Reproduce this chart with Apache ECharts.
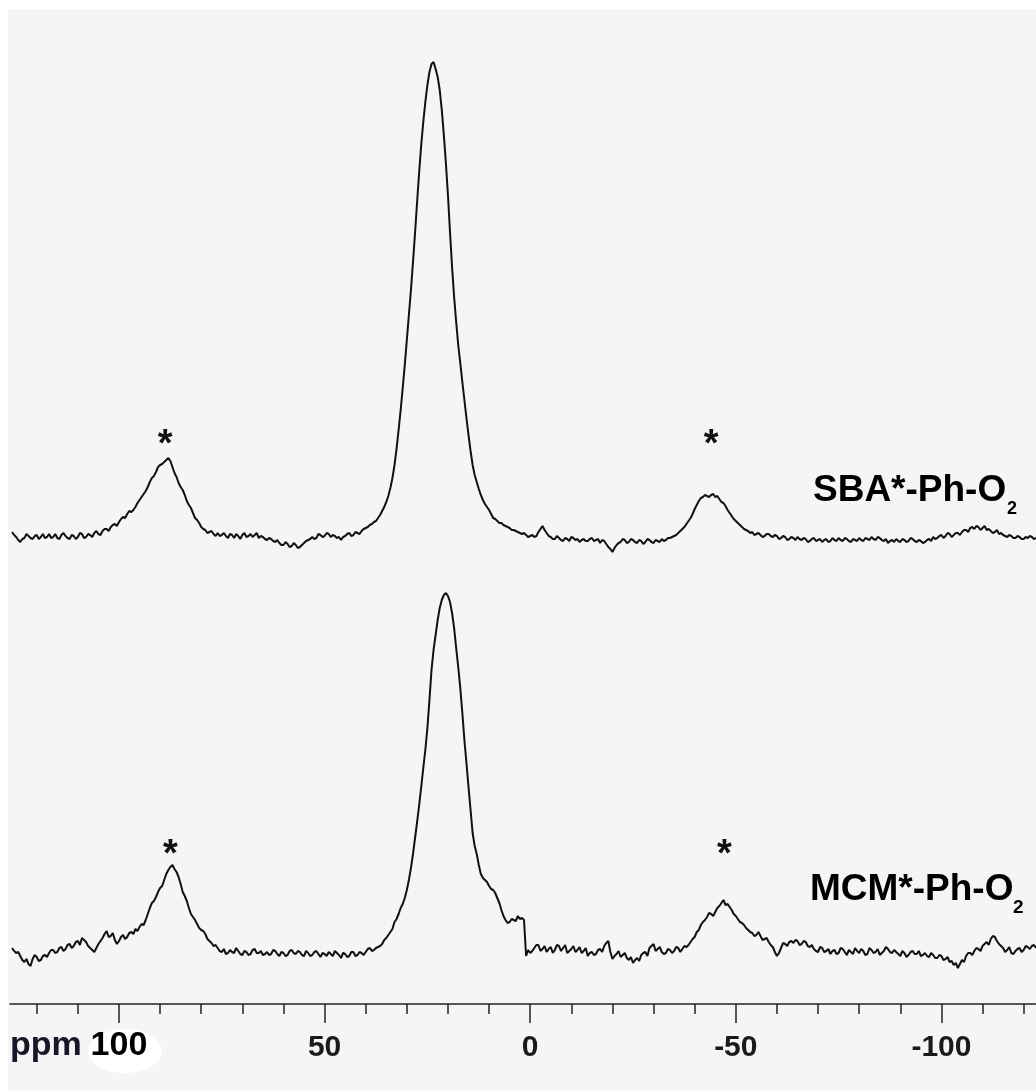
<!DOCTYPE html>
<html><head><meta charset="utf-8">
<script src="https://cdn.jsdelivr.net/npm/echarts@6/dist/echarts.min.js"></script>
<style>
html,body{margin:0;padding:0;background:#fff;}
#bg{position:absolute;left:8px;top:9px;width:1028px;height:1082px;background:#f5f5f5;}
#chart{position:absolute;left:0;top:0;width:1036px;height:1091px;}
</style></head><body>
<div id="bg"></div><div id="chart"></div>
<script>
// chemical shift sampling: whole-ppm points 126 .. -123, plus half-ppm points 125.5 .. -122.5
const ppmStart = 126, ppmStep = 1;

// SBA*-Ph-O2 trace (a.u., baseline ~0) at whole ppm, 126 .. -123
const sbaIntensity = [
  3, -2, -7, -3, -1, -4, 0, -2, -3, 1,
  -2, -3, 0, -1, -4, -1, -2, 1, -2, 0,
  2, 1, 4, 6, 8, 11, 13, 18, 21, 23,
  28, 35, 41, 48, 57, 63, 70, 73, 77, 68,
  58, 48, 40, 30, 22, 15, 8, 5, 3, 1,
  2, 0, -1, 1, -3, -1, 0, -2, 1, 0,
  -3, -2, -5, -4, -7, -8, -10, -9, -11, -10,
  -12, -8, -5, -2, -3, 0, -1, 1, 0, -3,
  -5, -1, 2, 0, 2, 4, 7, 10, 13, 17,
  24, 33, 47, 70, 105, 147, 195, 245, 302, 363,
  413, 450, 471, 466, 445, 400, 340, 268, 213, 172,
  135, 100, 70, 53, 40, 31, 25, 17, 14, 12,
  9, 7, 5, 3, 1, 0, -1, -2, 3, 9,
  2, -2, -4, -3, -6, -4, -2, -5, -7, -4,
  -6, -3, -5, -8, -6, -12, -17, -10, -7, -5,
  -7, -5, -8, -6, -7, -5, -8, -6, -4, -5,
  -3, -1, 2, 6, 11, 17, 26, 34, 38, 39,
  40, 38, 36, 32, 25, 19, 14, 10, 6, 4,
  3, 1, 0, -1, 1, -2, -1, -3, -2, -4,
  -3, -2, -5, -4, -6, -3, -5, -7, -4, -6,
  -5, -3, -6, -4, -7, -5, -3, -6, -4, -2,
  -5, -3, -6, -8, -5, -4, -7, -5, -6, -4,
  -7, -6, -7, -4, -2, -3, 0, -1, 1, 0,
  2, 3, 5, 7, 6, 8, 7, 5, 4, 3,
  1, 0, -2, -1, -3, -2, -4, -3, -2, -3
];
// SBA*-Ph-O2 trace at half ppm, 125.5 .. -122.5
const sbaHalf = [
  0, -5, -4, 1, -3, -1, -4, 1, -2, -3,
  1, -4, 2, -3, 0, -4, 2, -3, 1, -2,
  4, 0, 6, 4, 10, 9, 16, 17, 24, 25,
  32, 38, 44, 53, 59, 68, 71, 75, 74, 62,
  52, 45, 34, 27, 17, 12, 6, 2, 4, -1,
  -1, 2, -3, 0, 1, -4, 2, -1, -2, 2,
  -1, -4, -3, -6, -5, -10, -7, -12, -8, -13,
  -10, -6, -4, -4, 1, -2, 2, -2, -1, -2,
  -2, 1, -1, 3, 1, 6, 8, 11, 14, 20,
  28, 39, 57, 86, 125, 170, 220, 273, 333, 390,
  433, 463, 473, 458, 425, 372, 303, 238, 190, 153,
  117, 84, 60, 46, 35, 28, 21, 16, 12, 10,
  8, 5, 4, 2, 2, -2, 0, -1, 6, 5,
  -1, -4, -1, -5, -3, -6, -3, -4, -5, -6,
  -4, -6, -4, -5, -9, -14, -13, -8, -4, -8,
  -4, -7, -5, -9, -4, -7, -5, -7, -6, -3,
  -2, 0, 4, 8, 14, 21, 30, 37, 40, 38,
  41, 39, 33, 29, 22, 16, 12, 8, 5, 2,
  0, 2, -2, 1, -1, 0, -4, -1, -5, -2,
  -5, -4, -3, -7, -4, -6, -4, -5, -7, -3,
  -6, -5, -3, -6, -4, -6, -5, -3, -5, -4,
  -2, -5, -4, -6, -7, -6, -4, -7, -3, -6,
  -5, -8, -5, -6, -4, -1, -3, 2, -2, 2,
  0, 5, 3, 8, 9, 5, 9, 6, 2, 5,
  2, -1, 0, -3, -1, -4, -2, -1, -4
];

// MCM*-Ph-O2 trace (a.u., baseline ~0) at whole ppm, 126 .. -123
const mcmIntensity = [
  2, -3, -6, -12, -14, -9, -7, -10, -5, -3,
  0, -2, 3, 1, 6, 4, 9, 12, 8, 2,
  -2, 6, 12, 19, 14, 10, 9, 15, 13, 18,
  21, 23, 25, 36, 47, 53, 62, 70, 80, 85,
  78, 66, 54, 42, 33, 26, 20, 16, 9, 4,
  2, -2, -4, 0, -3, -1, -5, -2, -4, 1,
  -3, -5, -2, -4, -1, -6, -3, -5, 0, -4,
  -2, -6, -3, -5, -1, -7, -4, -2, -6, -3,
  -8, -4, -6, -2, -5, -3, -2, 2, 0, 3,
  6, 12, 18, 28, 36, 46, 60, 82, 112, 145,
  182, 222, 280, 315, 342, 355, 354, 337, 302, 262,
  210, 163, 117, 96, 76, 70, 64, 60, 52, 40,
  30, 28, 30, 34, 32, -6, -3, 2, 5, 1,
  -2, 3, 0, 4, 2, -3, 1, -2, 3, -1,
  -6, -2, -4, 1, 4, 9, -9, -4, -7, -3,
  -10, -13, -8, -5, -2, 2, 6, 1, -2, -3,
  0, -1, 2, 1, 3, 8, 13, 20, 28, 33,
  36, 38, 44, 50, 46, 40, 34, 28, 25, 20,
  17, 15, 14, 11, 8, 3, -6, 2, 6, 8,
  7, 9, 6, 8, 3, 1, -2, 2, -1, -4,
  0, -3, 1, -5, -2, 2, -3, -1, -4, 0,
  -2, -5, -1, 1, -3, -2, -6, -3, -5, -1,
  -4, -6, -3, -7, -5, -8, -6, -9, -12, -15,
  -18, -10, -6, -3, -1, 1, 4, 8, 11, 13,
  6, 2, 0, -3, -1, 2, 0, 3, 4, 2
];
// MCM*-Ph-O2 trace at half ppm, 125.5 .. -122.5
const mcmHalf = [
  -1, -2, -10, -9, -16, -5, -11, -6, -7, 0,
  -3, 2, -1, 5, 2, 8, 5, 10, 4, 0,
  2, 9, 16, 13, 17, 6, 13, 11, 17, 16,
  19, 26, 30, 42, 49, 58, 64, 76, 83, 81,
  73, 58, 49, 36, 30, 22, 19, 11, 7, 5,
  -1, 1, -3, -2, 2, -4, -1, -5, 0, -3,
  -1, -4, -5, 0, -4, -2, -6, -1, -3, -1,
  -5, -1, -6, -2, -4, -3, -6, -4, -1, -5,
  -3, -7, -2, -6, -2, -5, 1, -1, 2, 4,
  10, 15, 21, 31, 42, 52, 70, 96, 128, 163,
  200, 250, 300, 330, 350, 357, 348, 322, 283, 237,
  187, 140, 104, 85, 72, 68, 61, 57, 47, 34,
  27, 31, 29, 31, 30, 0, -1, 5, -1, 4,
  1, -3, 5, -1, 5, -1, 4, 0, -3, 2,
  -3, -5, 0, -2, 7, -2, -6, -1, -5, -8,
  -7, -10, -11, -3, -6, 4, -1, 3, -4, 1,
  -3, 3, -2, 4, 5, 11, 18, 25, 30, 37,
  34, 42, 47, 45, 43, 36, 31, 27, 22, 18,
  14, 18, 10, 12, 5, -2, -3, 7, 4, 9,
  10, 5, 9, 4, 5, -1, 3, -2, 1, -1,
  -4, 2, -2, 0, -4, -1, 1, -5, 2, -3,
  1, -3, 3, -2, 0, -4, -1, -7, -2, -4,
  -1, -5, -6, -3, -8, -5, -10, -7, -11, -13,
  -14, -12, -3, -5, 2, -1, 6, 5, 14, 9,
  4, -2, 3, -4, 1, -2, 4, 1, 5
];

const majorTicks = [100, 50, 0, -50, -100];
const minorTicks = [120, 110, 90, 80, 70, 60, 40, 30, 20, 10, -10, -20, -30, -40, -60, -70, -80, -90, -110, -120];
const axisUnit = 'ppm';

// spinning sideband markers [ppm, intensity where the asterisk sits]
const sbaSidebands = [[88.8, 98], [-44.0, 98]];
const mcmSidebands = [[87.5, 103], [-47.2, 103]];

const sampleNames = ['SBA*-Ph-O', 'MCM*-Ph-O'];
const subscript = '2';

const FONT = '"Liberation Sans", Arial, Helvetica, sans-serif';

function toPairs(full, half) {
  const out = [];
  full.forEach((v, i) => {
    out.push([ppmStart - i * ppmStep, v]);
    if (i < half.length) out.push([ppmStart - (i + 0.5) * ppmStep, half[i]]);
  });
  return out;
}

const xMin = -123, xMax = 126.5;

function starMarks(list) {
  return {
    symbol: 'circle',
    symbolSize: 1,
    itemStyle: { color: 'rgba(0,0,0,0)' },
    label: {
      show: true, position: 'inside', formatter: '*',
      fontFamily: FONT, fontWeight: 'bold', fontSize: 38, color: '#111',
      offset: [0, 9]
    },
    data: list.map(c => ({ coord: c }))
  };
}

const chart = echarts.init(document.getElementById('chart'), null, { renderer: 'canvas' });

const option = {
  backgroundColor: 'transparent',
  animation: false,
  grid: [
    { left: 10, right: 0, top: 40, height: 520 },
    { left: 10, right: 0, top: 580, height: 424 }
  ],
  xAxis: [
    { gridIndex: 0, type: 'value', min: xMin, max: xMax, inverse: true, show: false },
    {
      gridIndex: 1, type: 'value', min: xMin, max: xMax, inverse: true, position: 'bottom',
      axisLine: { show: true, onZero: false, lineStyle: { color: '#222', width: 1.5 } },
      axisTick: { show: true, customValues: majorTicks, length: 19, inside: false, lineStyle: { color: '#222', width: 1.5 } },
      axisLabel: {
        show: true, customValues: majorTicks, margin: 25,
        formatter: v => v === 100 ? '{big|100}' : '{n|' + v + '}',
        rich: {
          n: { fontFamily: FONT, fontWeight: 'bold', fontSize: 30, lineHeight: 38, color: '#1a1a1a' },
          big: { fontFamily: FONT, fontWeight: 'bold', fontSize: 34, lineHeight: 34, color: '#000' }
        }
      },
      splitLine: { show: false }
    },
    {
      gridIndex: 1, type: 'value', min: xMin, max: xMax, inverse: true, position: 'bottom',
      axisLine: { show: false, onZero: false },
      axisTick: { show: true, customValues: minorTicks, length: 10, inside: false, lineStyle: { color: '#222', width: 1.5 } },
      axisLabel: { show: false },
      splitLine: { show: false }
    }
  ],
  yAxis: [
    { gridIndex: 0, type: 'value', min: -25, max: 495, show: false },
    { gridIndex: 1, type: 'value', min: -54, max: 370, show: false }
  ],
  series: [
    {
      name: sampleNames[0], type: 'line', xAxisIndex: 0, yAxisIndex: 0,
      data: toPairs(sbaIntensity, sbaHalf), showSymbol: false, smooth: false,
      lineStyle: { color: '#111', width: 2 },
      markPoint: starMarks(sbaSidebands)
    },
    {
      name: sampleNames[1], type: 'line', xAxisIndex: 1, yAxisIndex: 1,
      data: toPairs(mcmIntensity, mcmHalf), showSymbol: false, smooth: false,
      lineStyle: { color: '#111', width: 2 },
      markPoint: starMarks(mcmSidebands)
    }
  ],
  graphic: [
    { type: 'ellipse', z: -1, shape: { cx: 125, cy: 1051, rx: 37, ry: 22 }, style: { fill: '#fff' } },
    { type: 'text', left: 10, top: 1029, style: { text: axisUnit, font: 'bold 34px ' + FONT, fill: '#17172a' } },
    { type: 'text', left: 813, top: 472, style: { text: sampleNames[0], font: 'bold 37px ' + FONT, fill: '#000' } },
    { type: 'text', left: 1007, top: 500, style: { text: subscript, font: 'bold 18px ' + FONT, fill: '#000' } },
    { type: 'text', left: 810, top: 871, style: { text: sampleNames[1], font: 'bold 37px ' + FONT, fill: '#000' } },
    { type: 'text', left: 1013, top: 898, style: { text: subscript, font: 'bold 19px ' + FONT, fill: '#000' } }
  ]
};
chart.setOption(option);
</script>
</body></html>
